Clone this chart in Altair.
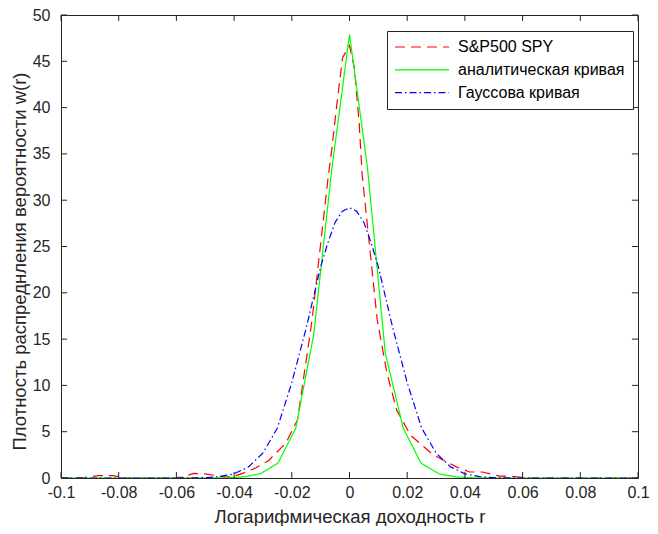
import altair as alt
import pandas as pd

# ---------------- data ----------------
series_names = ["S&P500 SPY", "аналитическая кривая", "Гауссова кривая"]
series_colors = ["#ff0000", "#00ff00", "#0000ff"]
series_dashes = [[10, 6], [1, 0], [7, 3, 1.5, 3]]

# S&P500 SPY empirical density (red dashed)
r_spy = [-0.1, -0.092, -0.087, -0.082, -0.077, -0.062, -0.058, -0.054, -0.05,
         -0.047, -0.043, -0.04, -0.037, -0.0324, -0.028, -0.022, -0.018, -0.016,
         -0.013, -0.0075, -0.0061, -0.0044, -0.0024, 0.0, 0.0017, 0.0034, 0.0044,
         0.0096, 0.013, 0.0164, 0.0212, 0.029, 0.037, 0.0416, 0.046, 0.052, 0.056,
         0.062, 0.1]
w_spy = [0.0, 0.05, 0.25, 0.25, 0.0, 0.0, 0.1, 0.5, 0.45,
         0.3, 0.1, 0.2, 0.5, 1.1, 1.9, 3.8, 6.3, 10.6,
         17.0, 32.2, 35.6, 40.3, 45.4, 46.7, 44.3, 38.1, 32.7,
         17.1, 11.3, 7.3, 4.6, 2.5, 1.2, 0.65, 0.65, 0.2, 0.2,
         0.0, 0.0]

# analytic curve (green solid)
r_an = [-0.1, -0.0496, -0.0434, -0.0372, -0.031, -0.0248, -0.0186, -0.0124, -0.0062,
        0.0, 0.0062, 0.0124, 0.0186, 0.0248, 0.031, 0.0372, 0.0434, 0.0496, 0.1]
w_an = [0.0, 0.0, 0.02, 0.1, 0.45, 1.6, 5.4, 15.5, 33.2,
        47.9, 33.6, 13.5, 5.4, 1.6, 0.45, 0.1, 0.02, 0.0, 0.0]

# Gaussian curve (blue dash-dot)
r_gauss = [-0.1, -0.06, -0.055, -0.05, -0.045, -0.04, -0.035, -0.03, -0.025, -0.02,
           -0.015, -0.01, -0.0075, -0.005, -0.0025, 0.0, 0.0025, 0.005, 0.0075, 0.01,
           0.015, 0.02, 0.025, 0.03, 0.035, 0.04, 0.045, 0.05, 0.055, 0.06, 0.1]
w_gauss = [0.0, 0.0, 0.01, 0.04, 0.15, 0.45, 1.2, 2.7, 5.4, 10.3,
           16.2, 22.8, 25.4, 27.6, 28.8, 29.2, 28.8, 27.6, 25.4, 22.8,
           16.2, 10.3, 5.4, 2.7, 1.2, 0.45, 0.15, 0.04, 0.01, 0.0, 0.0]

x_ticks = [-0.1, -0.08, -0.06, -0.04, -0.02, 0.0, 0.02, 0.04, 0.06, 0.08, 0.1]
y_ticks = [0, 5, 10, 15, 20, 25, 30, 35, 40, 45, 50]

x_title = "Логарифмическая доходность r"
y_title = "Плотность распреднления вероятности w(r)"

# ---------------- build tables ----------------
rows = []
for name, rs, ws in zip(series_names, [r_spy, r_an, r_gauss], [w_spy, w_an, w_gauss]):
    for r, w in zip(rs, ws):
        rows.append({"series": name, "r": r, "w": w})
df = pd.DataFrame(rows)

X_MIN, X_MAX = x_ticks[0], x_ticks[-1]
Y_MIN, Y_MAX = y_ticks[0], y_ticks[-1]
TICK_Y = 0.65     # inward tick length in data units (y)
TICK_X = 0.0021   # inward tick length in data units (x)

tick_rows = []
for t in x_ticks:
    tick_rows.append({"x": t, "x2": t, "y": Y_MIN, "y2": Y_MIN + TICK_Y})
    tick_rows.append({"x": t, "x2": t, "y": Y_MAX, "y2": Y_MAX - TICK_Y})
for t in y_ticks:
    tick_rows.append({"x": X_MIN, "x2": X_MIN + TICK_X, "y": t, "y2": t})
    tick_rows.append({"x": X_MAX, "x2": X_MAX - TICK_X, "y": t, "y2": t})
ticks_df = pd.DataFrame(tick_rows)

FONT = "Liberation Sans"
INK = "#262626"

x_scale = alt.Scale(domain=[X_MIN, X_MAX], nice=False, zero=False)
y_scale = alt.Scale(domain=[Y_MIN, Y_MAX], nice=False, zero=False)

legend = alt.Legend(
    title=None, orient="none", legendX=326, legendY=16,
    symbolType="M-9,0L9,0", symbolSize=36, symbolStrokeWidth=1.2,
    symbolOffset=19, labelOffset=28,
    labelFont=FONT, labelFontSize=16, labelColor="#000000", labelLimit=400,
    padding=8, rowPadding=6.8,
    strokeColor=INK, fillColor="#ffffff", cornerRadius=0,
)

lines = alt.Chart(df).mark_line(strokeWidth=1.2, clip=True).encode(
    x=alt.X("r:Q", scale=x_scale, title=x_title,
            axis=alt.Axis(values=x_ticks, labelExpr="toString(round(datum.value*100)/100)",
                          ticks=False, domain=False, grid=False, labelFlush=False,
                          labelOverlap=False, labelPadding=6,
                          titleY=38, titleBaseline="middle")),
    y=alt.Y("w:Q", scale=y_scale, title=y_title,
            axis=alt.Axis(values=y_ticks, ticks=False, domain=False, grid=False,
                          labelFlush=False, labelOverlap=False, labelPadding=11,
                          titleX=-41.5, titleY=246, titleBaseline="middle")),
    color=alt.Color("series:N", sort=series_names,
                    scale=alt.Scale(domain=series_names, range=series_colors),
                    legend=legend),
    strokeDash=alt.StrokeDash("series:N", sort=series_names,
                              scale=alt.Scale(domain=series_names, range=series_dashes),
                              legend=legend),
)

ticks = alt.Chart(ticks_df).mark_rule(color=INK, strokeWidth=1).encode(
    x=alt.X("x:Q", scale=x_scale),
    x2="x2:Q",
    y=alt.Y("y:Q", scale=y_scale),
    y2="y2:Q",
)

chart = alt.layer(lines, ticks).properties(
    width=577, height=463,
    autosize=alt.AutoSizeParams(type="none"),
    padding={"left": 53, "top": 7, "right": 12, "bottom": 48},
).configure(
    font=FONT,
).configure_view(
    stroke=INK, strokeWidth=1,
).configure_axis(
    labelFont=FONT, labelFontSize=16, labelColor=INK,
    titleFont=FONT, titleFontSize=18.5, titleFontWeight="normal", titleColor=INK,
)

chart.save("out.html", embed_options={"renderer": "svg", "actions": False})
